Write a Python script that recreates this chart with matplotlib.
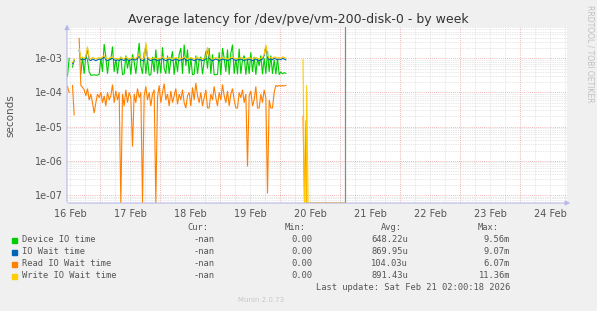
import numpy as np
import matplotlib
matplotlib.use("Agg")
import matplotlib.pyplot as plt
from matplotlib.patches import Rectangle
from matplotlib.ticker import FixedLocator, NullFormatter

# sample grid: days since 16 Feb 00:00, one sample every 40 minutes
t_start = 0.45
t_step = 1 / 36

# Device IO time (ms)
device_ms = [
    0.30, 1.0, np.nan, 0.55, 0.9, np.nan, np.nan, np.nan, 0.35, 1.1,
    0.35, 1.2, 0.9, 0.4, 0.32, 0.32, 0.33, 0.32, 0.32, 0.34,
    1.0, 0.4, 2.6, 1.1, 0.35, 1.0, 0.9, 2.2, 0.4, 1.0,
    0.35, 0.9, 1.1, 0.33, 0.35, 1.2, 0.5, 1.0, 0.33, 1.3,
    0.8, 0.35, 1.0, 2.8, 0.6, 0.35, 1.5, 0.35, 1.0, 0.32,
    0.33, 1.1, 0.4, 1.8, 0.35, 1.0, 0.36, 2.1, 0.5, 0.35,
    1.2, 0.35, 0.9, 1.6, 0.33, 1.0, 0.4, 1.3, 2.0, 0.35,
    2.5, 0.6, 1.8, 0.35, 1.0, 0.33, 0.34, 1.2, 0.35, 0.9,
    1.1, 0.34, 0.8, 1.6, 0.5, 2.0, 0.35, 1.3, 0.33, 0.33,
    0.34, 1.5, 0.32, 2.0, 1.0, 0.4, 1.8, 0.33, 1.4, 2.5,
    0.35, 1.0, 0.34, 1.9, 0.35, 0.9, 1.2, 0.33, 1.0, 0.35,
    1.5, 0.4, 1.1, 0.33, 1.0, 0.6, 1.2, 0.34, 1.0, 0.35,
    1.6, 0.4, 1.2, 0.35, 0.9, 0.34, 1.0, 0.33, 0.4, 0.35,
    0.38, 0.36,
]

# IO Wait time (ms)
iowait_ms = [
    np.nan, 0.8, np.nan, 0.7, 0.85, np.nan, np.nan, 1.7, 0.9, 0.95,
    0.9, 1.0, 1.9, 0.9, 0.85, 0.95, 0.9, 0.85, 0.9, 0.95,
    0.9, 1.0, 1.1, 0.9, 0.85, 0.9, 0.95, 1.0, 0.9, 0.85,
    0.9, 0.85, 0.95, 0.9, 0.85, 1.0, 0.9, 0.85, 0.9, 0.95,
    0.9, 0.9, 1.0, 1.2, 0.9, 0.85, 0.9, 2.5, 1.0, 0.9,
    0.85, 0.9, 0.95, 0.9, 0.85, 0.9, 0.9, 1.0, 0.9, 0.85,
    0.9, 0.95, 0.9, 0.85, 0.9, 0.95, 0.9, 0.85, 0.9, 0.9,
    1.0, 0.9, 0.85, 0.9, 0.95, 0.9, 0.85, 0.9, 0.95, 0.9,
    0.9, 0.85, 0.9, 0.95, 1.9, 1.0, 0.9, 0.85, 0.9, 0.95,
    0.9, 0.85, 0.9, 0.95, 0.9, 0.9, 0.85, 0.9, 0.95, 1.0,
    0.9, 0.85, 0.9, 0.9, 0.95, 0.9, 0.85, 0.9, 0.9, 0.95,
    0.9, 0.85, 0.9, 0.95, 0.9, 0.85, 0.9, 0.95, 1.2, 2.2,
    1.1, 0.9, 0.95, 0.9, 1.0, 0.95, 0.9, 0.95, 0.9, 1.0,
    0.95, 0.9,
]

# Read IO Wait time (units of 0.1 ms)
read_01ms = [
    1.5, 1.0, np.nan, 1.6, 0.22, np.nan, np.nan, 38, 1.6, 1.4,
    1.2, 0.8, 1.3, 0.6, 0.9, 0.5, 0.25, 0.5, 0.9, 0.7,
    1.0, 0.5, 0.8, 0.4, 1.0, 0.6, 0.8, 1.7, 0.5, 1.1,
    0.6, 1.0, 0.0, 0.9, 0.4, 1.2, 0.5, 1.0, 0.7, 0.026,
    0.9, 0.5, 1.3, 0.7, 1.0, 0.0, 0.8, 1.5, 0.6, 1.0,
    0.4, 0.9, 1.2, 0.0, 0.7, 1.6, 0.5, 1.0, 1.8, 0.6,
    0.9, 0.4, 1.1, 0.5, 0.8, 1.3, 0.45, 0.9, 0.6, 1.2,
    0.5, 0.35, 0.8, 1.0, 0.4, 1.4, 0.6, 1.9, 0.8, 0.5,
    1.0, 0.4, 0.7, 1.2, 0.35, 0.35, 0.9, 0.6, 1.5, 0.7,
    0.4, 1.0, 0.6, 1.7, 0.8, 0.5, 1.1, 0.4, 0.9, 1.3,
    0.6, 0.35, 0.35, 1.0, 0.7, 1.2, 0.5, 0.9, 0.0068, 0.8,
    1.1, 0.4, 0.6, 1.5, 0.35, 0.35, 0.9, 0.5, 1.2, 0.7,
    0.0011, 0.6, 0.35, 0.35, 1.0, 1.6, 1.5, 1.6, 1.5, 1.6,
    1.55, 1.6,
]

# Write IO Wait time (ms)
write_ms = [
    np.nan, 0.85, np.nan, 0.75, 0.9, np.nan, np.nan, 1.9, 1.0, 1.05,
    1.0, 1.1, 2.2, 1.0, 0.95, 1.05, 1.0, 0.95, 1.0, 1.05,
    1.0, 1.1, 1.2, 1.0, 0.95, 1.0, 1.05, 1.1, 1.0, 0.95,
    1.0, 0.95, 1.05, 1.0, 0.95, 1.1, 1.0, 0.95, 1.0, 1.05,
    1.0, 1.0, 1.1, 1.3, 1.0, 0.95, 1.0, 2.9, 1.1, 1.0,
    0.95, 1.0, 1.05, 1.0, 0.95, 1.0, 1.0, 1.1, 1.0, 0.95,
    1.0, 1.05, 1.0, 0.95, 1.0, 1.05, 1.0, 0.95, 1.0, 1.0,
    1.1, 1.0, 0.95, 1.0, 1.05, 1.0, 0.95, 1.0, 1.05, 1.0,
    1.0, 0.95, 1.0, 1.05, 2.1, 1.1, 1.0, 0.95, 1.0, 1.05,
    1.0, 0.95, 1.0, 1.05, 1.0, 1.0, 0.95, 1.0, 1.05, 1.1,
    1.0, 0.95, 1.0, 1.0, 1.05, 1.0, 0.95, 1.0, 1.0, 1.05,
    1.0, 0.95, 1.0, 1.05, 1.0, 0.95, 1.0, 1.05, 1.3, 2.5,
    1.2, 1.0, 1.05, 1.0, 1.1, 1.05, 1.0, 1.05, 1.0, 1.1,
    1.05, 1.0,
]

# short burst on 20 Feb after the gap, then zeros up to the last update
tail_t = [4.375, 4.40, 4.425, 4.437, 4.46, 5.075]
tail_write_ms = [0.9, 0.0, 0.0, 0.16, 0.0, 0.0]
tail_read_01ms = [0.2, 0.0, 0.15, 0.0, 0.0, 0.0]
now_t = 5.075

day_labels = ["16 Feb", "17 Feb", "18 Feb", "19 Feb", "20 Feb",
              "21 Feb", "22 Feb", "23 Feb", "24 Feb"]
ytick_vals = [1e-7, 1e-6, 1e-5, 1e-4, 1e-3]
ytick_labels = ["1e-07", "1e-06", "1e-05", "1e-04", "1e-03"]

legend_names = ["Device IO time", "IO Wait time", "Read IO Wait time", "Write IO Wait time"]
legend_cur = ["-nan", "-nan", "-nan", "-nan"]
legend_min = ["0.00", "0.00", "0.00", "0.00"]
legend_avg = ["648.22u", "869.95u", "104.03u", "891.43u"]
legend_max = ["9.56m", "9.07m", "6.07m", "11.36m"]
colors = ["#00CC00", "#0066B3", "#FF8000", "#FFCC00"]

W, H = 597, 311
BG = "#F0F0F0"
TXT = "#555555"


def fx(px):
    return px / W


def fy(py):
    return 1 - py / H


fig = plt.figure(figsize=(W / 100, H / 100), dpi=100, facecolor=BG)
ax = fig.add_axes([fx(67), fy(203), fx(567) - fx(67), fy(27) - fy(203)])
ax.set_facecolor("white")
ax.set_yscale("log")
ymin, ymax = 5.83e-8, 8.2e-3
ax.set_ylim(ymin, ymax)
ax.set_xlim(0.4417, 8.775)

t = t_start + t_step * np.arange(len(device_ms))
series = [np.array(device_ms) * 1e-3, np.array(iowait_ms) * 1e-3,
          np.array(read_01ms) * 1e-4, np.array(write_ms) * 1e-3]
# zeros sit on the bottom edge, like rrdtool does
for y, c in zip(series, colors):
    ax.plot(t, np.clip(y, ymin, None), color=c, lw=0.8, solid_joinstyle="miter")
ax.plot(tail_t, np.clip(np.array(tail_read_01ms) * 1e-4, ymin, None), color=colors[2], lw=0.8)
ax.plot(tail_t, np.clip(np.array(tail_write_ms) * 1e-3, ymin, None), color=colors[3], lw=0.8)
ax.axvline(now_t, color="#888888", lw=0.9)

# grid: 6h minor, day major; log minor / decade major
for xv in np.arange(0.5, 8.8, 0.25):
    if abs(xv - round(xv)) > 1e-6:
        ax.axvline(xv, color="#D0D0D0", lw=0.5, ls=(0, (1, 1.5)), zorder=0)
for xv in range(1, 9):
    ax.axvline(xv, color="#E8A0A0", lw=0.6, ls=(0, (1, 1.5)), zorder=0)
for dec in range(-8, -2):
    for m in range(2, 10):
        ax.axhline(m * 10.0 ** dec, color="#D0D0D0", lw=0.5, ls=(0, (1, 1.5)), zorder=0)
for yv in ytick_vals:
    ax.axhline(yv, color="#E8A0A0", lw=0.6, ls=(0, (1, 1.5)), zorder=0)

for s in ax.spines.values():
    s.set_visible(False)
ax.xaxis.set_major_locator(FixedLocator(np.arange(0.5, 8.6, 1.0)))
ax.set_xticklabels(day_labels)
ax.yaxis.set_major_locator(FixedLocator(ytick_vals))
ax.set_yticklabels(ytick_labels)
ax.yaxis.set_minor_formatter(NullFormatter())
ax.tick_params(axis="both", which="both", length=0, labelsize=7, colors=TXT, pad=3)
ax.tick_params(axis="x", pad=4)

# axes with arrows
axis_col = "#B8B8E8"
ax.annotate("", xy=(1.012, 0), xytext=(-0.004, 0), xycoords="axes fraction",
            arrowprops=dict(arrowstyle="-|>", color=axis_col, lw=0.8,
                            mutation_scale=7), annotation_clip=False)
ax.annotate("", xy=(0, 1.03), xytext=(0, -0.01), xycoords="axes fraction",
            arrowprops=dict(arrowstyle="-|>", color=axis_col, lw=0.8,
                            mutation_scale=7), annotation_clip=False)

fig.text(fx(298), fy(23), "Average latency for /dev/pve/vm-200-disk-0 - by week",
         ha="center", va="baseline", fontsize=9, color="#333333")
fig.text(fx(10), fy(116), "seconds", rotation=90, ha="center", va="center",
         fontsize=7.5, color=TXT)
fig.text(fx(590), fy(5), "RRDTOOL / TOBI OETIKER", rotation=-90, ha="center",
         va="top", fontsize=5.5, color="#C0C0C0")

mono = "DejaVu Sans Mono"
lfs = 6.3
hy = 228
for label, xr in zip(["Cur:", "Min:", "Avg:", "Max:"], [208, 306, 402, 499]):
    fig.text(fx(xr), fy(hy), label, ha="right", va="center", family=mono,
             fontsize=lfs, color=TXT)
for k in range(4):
    ry = 240 + 12 * k
    fig.patches.append(Rectangle((fx(12), fy(ry + 2.5)), fx(5), fy(0) - fy(5),
                                 transform=fig.transFigure, color=colors[k]))
    fig.text(fx(22.5), fy(ry), legend_names[k], ha="left", va="center",
             family=mono, fontsize=lfs, color=TXT)
    for val, xr in zip([legend_cur[k], legend_min[k], legend_avg[k], legend_max[k]],
                       [214, 312, 408, 510]):
        fig.text(fx(xr), fy(ry), val, ha="right", va="center", family=mono,
                 fontsize=lfs, color=TXT)
fig.text(fx(510), fy(287.5), "Last update: Sat Feb 21 02:00:18 2026", ha="right",
         va="center", family=mono, fontsize=lfs, color=TXT)
fig.text(fx(261), fy(300), "Munin 2.0.73", ha="center", va="center",
         fontsize=5, color="#C8C8C8")

fig.savefig("out.png", dpi=100, facecolor=BG)
